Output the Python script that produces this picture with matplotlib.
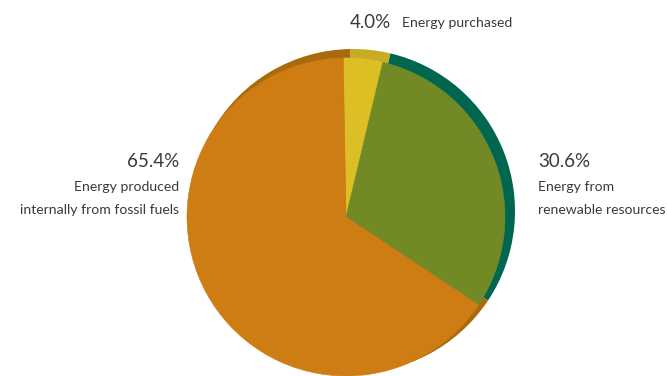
import matplotlib
matplotlib.use("Agg")
import matplotlib.pyplot as plt

# energy mix shares, clockwise from the top
labels = ["Energy purchased", "Energy from\nrenewable resources", "Energy produced\ninternally from fossil fuels"]
shares = [4.0, 30.6, 65.4]
face_colors = ["#DBBF25", "#718A26", "#CE7C14"]
rim_colors = ["#C8AC22", "#00664F", "#A86A0B"]

plt.rcParams['font.family'] = ['Lato', 'DejaVu Sans']

W, H = 667, 376
fig = plt.figure(figsize=(W / 100, H / 100), dpi=100)
ax = fig.add_axes([0, 0, 1, 1])

cx, cy, r = 346, H - 217, 159

# back "rim" of the 3d-looking disc, shifted up/right and a little bigger
ax.pie(shares, colors=rim_colors, startangle=91, counterclock=False,
       center=(cx + 7, cy + 6), radius=r + 3,
       wedgeprops=dict(linewidth=0))
wedges, _ = ax.pie(shares, colors=face_colors, startangle=91, counterclock=False,
                   center=(cx, cy), radius=r,
                   wedgeprops=dict(linewidth=0))
for w, c in zip(wedges, face_colors):
    w.set_edgecolor(c)
    w.set_linewidth(0.4)

ax.set_xlim(0, W)
ax.set_ylim(0, H)
ax.set_aspect("equal")
ax.axis("off")

txt = "#3a3a3a"
pct = [f"{v:.1f}%" for v in shares]
pct_size = 13.5
lab_size = 10.1

# Energy purchased (top)
ax.text(350, H - 28, pct[0], fontsize=pct_size, color=txt, ha="left", va="baseline")
ax.text(402, H - 27, labels[0], fontsize=lab_size, color=txt, ha="left", va="baseline")

# renewables (right)
ax.text(538, H - 167, pct[1], fontsize=pct_size, color=txt, ha="left", va="baseline")
for i, line in enumerate(labels[1].split("\n")):
    ax.text(538, H - 191 - 23 * i, line, fontsize=lab_size, color=txt,
            ha="left", va="baseline")

# fossil (left)
ax.text(179, H - 167, pct[2], fontsize=pct_size, color=txt, ha="right", va="baseline")
for i, line in enumerate(labels[2].split("\n")):
    ax.text(179, H - 191 - 23 * i, line, fontsize=lab_size, color=txt,
            ha="right", va="baseline")

fig.savefig("out.png", dpi=100, facecolor="white")
